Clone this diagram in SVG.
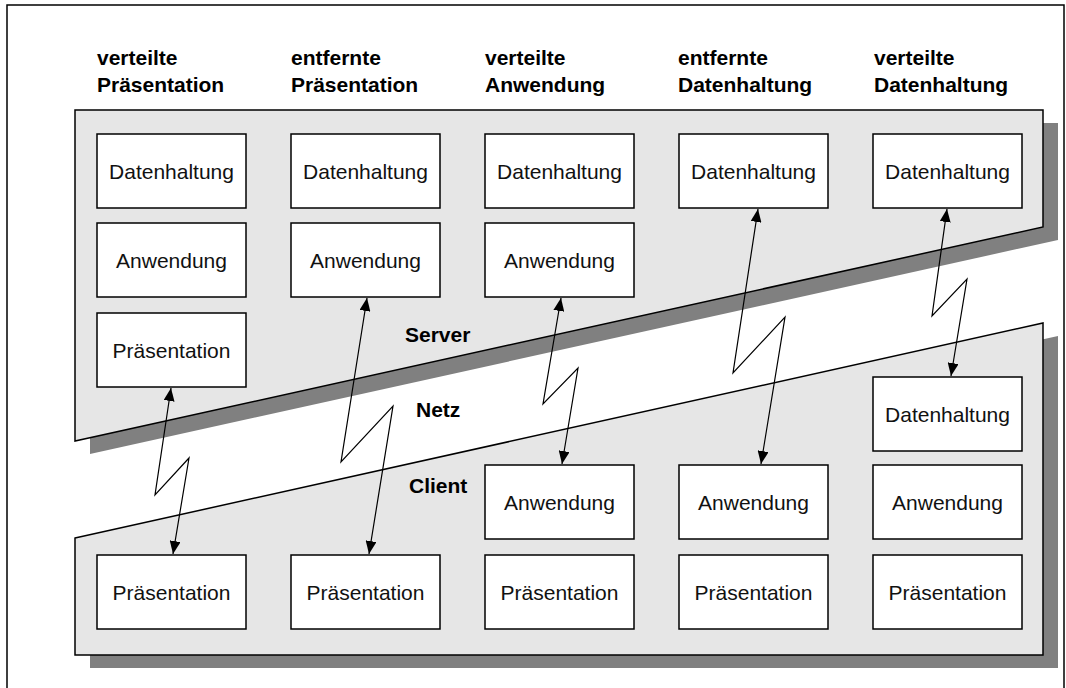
<svg xmlns="http://www.w3.org/2000/svg" width="1066" height="688" viewBox="0 0 1066 688">
<style>
.frame{fill:#fff;stroke:#000;stroke-width:1.5}
.shadow{fill:#808080;stroke:none}
.zone{fill:#e6e6e6;stroke:#000;stroke-width:1.5}
.box rect{fill:#fff;stroke:#000;stroke-width:1.5}
.box text{font-family:"Liberation Sans",Arial,sans-serif;font-size:21px;text-anchor:middle;fill:#111}
.hdr{font-family:"Liberation Sans",Arial,sans-serif;font-size:21px;font-weight:bold;fill:#000}
.conn{fill:none;stroke:#000;stroke-width:1.2;marker-start:url(#ah);marker-end:url(#ah)}
</style>
<defs>
<marker id="ah" viewBox="0 0 13 11" refX="13" refY="5.5" markerWidth="13" markerHeight="11" markerUnits="userSpaceOnUse" orient="auto-start-reverse">
<path d="M0,0 L13,5.5 L0,11 Z" fill="#000"/>
</marker>
</defs>
<rect class="frame" x="7" y="5" width="1057" height="700"/>
<g id="headers" class="hdr">
<text x="97" y="65">verteilte</text><text x="97" y="92">Präsentation</text>
<text x="291" y="65">entfernte</text><text x="291" y="92">Präsentation</text>
<text x="485" y="65">verteilte</text><text x="485" y="92">Anwendung</text>
<text x="678" y="65">entfernte</text><text x="678" y="92">Datenhaltung</text>
<text x="874" y="65">verteilte</text><text x="874" y="92">Datenhaltung</text>
</g>
<g id="server">
<polygon class="shadow" points="90,123 1058,123 1058,240 90,454"/>
<polygon class="zone" points="75,110 1043,110 1043,227 75,441"/>
</g>
<g id="client">
<polygon class="shadow" points="90,551 1058,336 1058,668 90,668"/>
<polygon class="zone" points="75,538 1043,323 1043,655 75,655"/>
</g>
<g id="zone-labels" class="hdr">
<text x="405" y="342">Server</text>
<text x="416" y="417">Netz</text>
<text x="409" y="493">Client</text>
</g>
<g id="s1d" class="box"><rect x="97" y="134" width="149" height="74"/><text x="171.5" y="178.5">Datenhaltung</text></g>
<g id="s1a" class="box"><rect x="97" y="223" width="149" height="74"/><text x="171.5" y="267.5">Anwendung</text></g>
<g id="s1p" class="box"><rect x="97" y="313" width="149" height="74"/><text x="171.5" y="357.5">Präsentation</text></g>
<g id="s2d" class="box"><rect x="291" y="134" width="149" height="74"/><text x="365.5" y="178.5">Datenhaltung</text></g>
<g id="s2a" class="box"><rect x="291" y="223" width="149" height="74"/><text x="365.5" y="267.5">Anwendung</text></g>
<g id="s3d" class="box"><rect x="485" y="134" width="149" height="74"/><text x="559.5" y="178.5">Datenhaltung</text></g>
<g id="s3a" class="box"><rect x="485" y="223" width="149" height="74"/><text x="559.5" y="267.5">Anwendung</text></g>
<g id="s4d" class="box"><rect x="679" y="134" width="149" height="74"/><text x="753.5" y="178.5">Datenhaltung</text></g>
<g id="s5d" class="box"><rect x="873" y="134" width="149" height="74"/><text x="947.5" y="178.5">Datenhaltung</text></g>
<g id="c5d" class="box"><rect x="873" y="377" width="149" height="74"/><text x="947.5" y="421.5">Datenhaltung</text></g>
<g id="c3a" class="box"><rect x="485" y="465" width="149" height="74"/><text x="559.5" y="509.5">Anwendung</text></g>
<g id="c4a" class="box"><rect x="679" y="465" width="149" height="74"/><text x="753.5" y="509.5">Anwendung</text></g>
<g id="c5a" class="box"><rect x="873" y="465" width="149" height="74"/><text x="947.5" y="509.5">Anwendung</text></g>
<g id="c1p" class="box"><rect x="97" y="555" width="149" height="74"/><text x="171.5" y="599.5">Präsentation</text></g>
<g id="c2p" class="box"><rect x="291" y="555" width="149" height="74"/><text x="365.5" y="599.5">Präsentation</text></g>
<g id="c3p" class="box"><rect x="485" y="555" width="149" height="74"/><text x="559.5" y="599.5">Präsentation</text></g>
<g id="c4p" class="box"><rect x="679" y="555" width="149" height="74"/><text x="753.5" y="599.5">Präsentation</text></g>
<g id="c5p" class="box"><rect x="873" y="555" width="149" height="74"/><text x="947.5" y="599.5">Präsentation</text></g>
<g id="connectors">
<polyline class="conn" points="171,388 155,495 189,458 173,554"/>
<polyline class="conn" points="367,298 341,462 393,406 369,554"/>
<polyline class="conn" points="561,298 543,404 578,368 562,464"/>
<polyline class="conn" points="758,209 733,373 785,317 761,464"/>
<polyline class="conn" points="947,209 932,316 967,279 951,376"/>
</g>
</svg>
